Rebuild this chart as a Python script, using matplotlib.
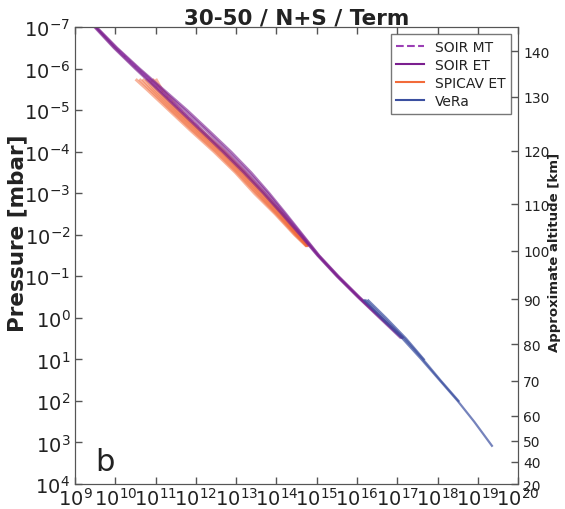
import numpy as np
import matplotlib
matplotlib.use("Agg")
import matplotlib.pyplot as plt
from matplotlib.ticker import FixedLocator, LogFormatterMathtext, NullLocator

# ---- data (log10 values) ----
# SOIR ET profiles: log10 pressure levels and log10 density per profile
soir_et_p = [-7.0, -6.5, -6.0, -5.5, -5.0, -4.5, -4.0, -3.5, -3.0, -2.5, -2.0, -1.5, -1.0, -0.5, 0.0, 0.47]
soir_et_n = [
    [9.50, 9.98, 10.52, 11.08, 11.63, 12.17, 12.71, 13.23, 13.71, 14.16, 14.60, 15.03, 15.51, 16.03, 16.58, 17.10],
    [9.52, 10.02, 10.57, 11.15, 11.72, 12.27, 12.80, 13.31, 13.78, 14.21, 14.63, 15.05, 15.53, 16.05, 16.60, 17.12],
    [9.48, 9.96, 10.49, 11.04, 11.58, 12.12, 12.66, 13.18, 13.67, 14.13, 14.58, 15.02, 15.50, 16.02, 16.56, 17.07],
    [9.53, 10.04, 10.60, 11.19, 11.78, 12.33, 12.87, 13.37, 13.82, 14.24, 14.65, 15.06, 15.54, 16.06, 16.61, 17.13],
]

# SOIR MT (dashed)
soir_mt_p = [-6.4, -6.1, -5.8, -5.5, -5.2, -4.9, -4.6]
soir_mt_n = [10.12, 10.44, 10.78, 11.10, 11.42, 11.74, 12.07]

# SPICAV ET profiles
spicav_p = [-5.72, -5.5, -5.0, -4.5, -4.0, -3.5, -3.0, -2.5, -2.0, -1.75]
spicav_n = [
    [10.53, 10.78, 11.33, 11.88, 12.45, 12.98, 13.45, 13.97, 14.45, 14.72],
    [10.62, 10.85, 11.38, 11.93, 12.50, 13.02, 13.50, 14.00, 14.47, 14.73],
    [10.70, 10.91, 11.43, 11.98, 12.55, 13.07, 13.54, 14.03, 14.49, 14.74],
    [10.78, 10.97, 11.48, 12.03, 12.60, 13.11, 13.58, 14.07, 14.51, 14.75],
    [10.86, 11.03, 11.52, 12.07, 12.64, 13.15, 13.62, 14.10, 14.52, 14.76],
    [10.94, 11.09, 11.57, 12.11, 12.68, 13.19, 13.66, 14.13, 14.54, 14.77],
    [11.02, 11.15, 11.62, 12.15, 12.72, 13.22, 13.70, 14.15, 14.55, 14.78],
]

# VeRa profiles
vera_p = [-0.42, 0.0, 0.5, 1.0, 1.5, 2.0, 2.5, 3.08]
vera_n = [
    [16.18, 16.60, 17.13, 17.60, 18.05, 18.50, 18.91, 19.35],
    [16.22, 16.66, 17.18, 17.64, 18.07, 18.52, np.nan, np.nan],
    [16.28, 16.72, 17.22, 17.66, np.nan, np.nan, np.nan, np.nan],
]

# right axis: approximate altitude ticks and their log10 pressure positions
alt_labels = [140, 130, 120, 110, 100, 90, 80, 70, 60, 50, 40, 20]
alt_logp = [-6.42, -5.32, -4.02, -2.74, -1.61, -0.45, 0.63, 1.52, 2.36, 2.96, 3.47, 4.0]

SOIR_MT = '#9b3fb5'
SOIR_ET = '#7b1f8f'
SPICAV = '#f26b3a'
VERA = '#3b4fa0'
GREY = '#555555'
TXT = '#222222'

fig = plt.figure(figsize=(5.65, 5.10), dpi=100)
ax = fig.add_axes([0.133, 0.049, 0.784, 0.896])

for prof in spicav_n:
    ax.plot(10**np.array(prof), 10**np.array(spicav_p), color=SPICAV, lw=2.2, alpha=0.5)
for prof in soir_et_n:
    ax.plot(10**np.array(prof), 10**np.array(soir_et_p), color=SOIR_ET, lw=1.8, alpha=0.6)
ax.plot(10**np.array(soir_mt_n), 10**np.array(soir_mt_p), color=SOIR_MT, lw=1.0, ls='--', alpha=0.6)
for prof in vera_n:
    ax.plot(10**np.array(prof), 10**np.array(vera_p), color=VERA, lw=1.6, alpha=0.7)

# legend handles
ax.plot([], [], color=SOIR_MT, ls='--', lw=1.5, label='SOIR MT')
ax.plot([], [], color=SOIR_ET, lw=1.5, label='SOIR ET')
ax.plot([], [], color=SPICAV, lw=1.5, label='SPICAV ET')
ax.plot([], [], color=VERA, lw=1.5, label='VeRa')

ax.set_xscale('log')
ax.set_yscale('log')
ax.set_xlim(1e9, 1e20)
ax.set_ylim(1e4, 1e-7)

ax.xaxis.set_major_locator(FixedLocator([10.0**k for k in range(9, 21)]))
ax.yaxis.set_major_locator(FixedLocator([10.0**k for k in range(-7, 5)]))
ax.xaxis.set_major_formatter(LogFormatterMathtext())
ax.yaxis.set_major_formatter(LogFormatterMathtext())
ax.xaxis.set_minor_locator(NullLocator())
ax.yaxis.set_minor_locator(NullLocator())
ax.tick_params(direction='in', length=5, width=1, colors=GREY, labelcolor=TXT,
               labelsize=14, top=True, right=False)
ax.tick_params(axis='x', pad=2)

for s in ax.spines.values():
    s.set_color(GREY)

ax.set_ylabel('Pressure [mbar]', fontsize=15.5, fontweight='bold', color=TXT)
ax.yaxis.set_label_coords(-0.108, 0.55)
ax.set_title('30-50 / N+S / Term', fontsize=15.5, fontweight='bold', color=TXT, pad=1)
ax.text(0.045, 0.03, 'b', transform=ax.transAxes, fontsize=22, color=TXT)

leg = ax.legend(loc='upper right', fontsize=10, fancybox=False, handlelength=2,
                borderaxespad=0.5, labelspacing=0.3)
leg.get_frame().set_edgecolor(GREY)
for t in leg.get_texts():
    t.set_color(TXT)

ax2 = ax.twinx()
ax2.set_yscale('log')
ax2.set_ylim(1e4, 1e-7)
ax2.yaxis.set_major_locator(FixedLocator([10.0**v for v in alt_logp]))
ax2.yaxis.set_minor_locator(NullLocator())
ax2.set_yticklabels([str(a) for a in alt_labels])
ax2.tick_params(direction='in', length=5, width=1, colors=GREY, labelcolor=TXT, labelsize=10)
for s in ax2.spines.values():
    s.set_color(GREY)
ax2.set_ylabel('Approximate altitude [km]', fontsize=9.5, fontweight='bold', color=TXT)
ax2.yaxis.set_label_coords(1.068, 0.51)

fig.savefig('out.png', dpi=100)
